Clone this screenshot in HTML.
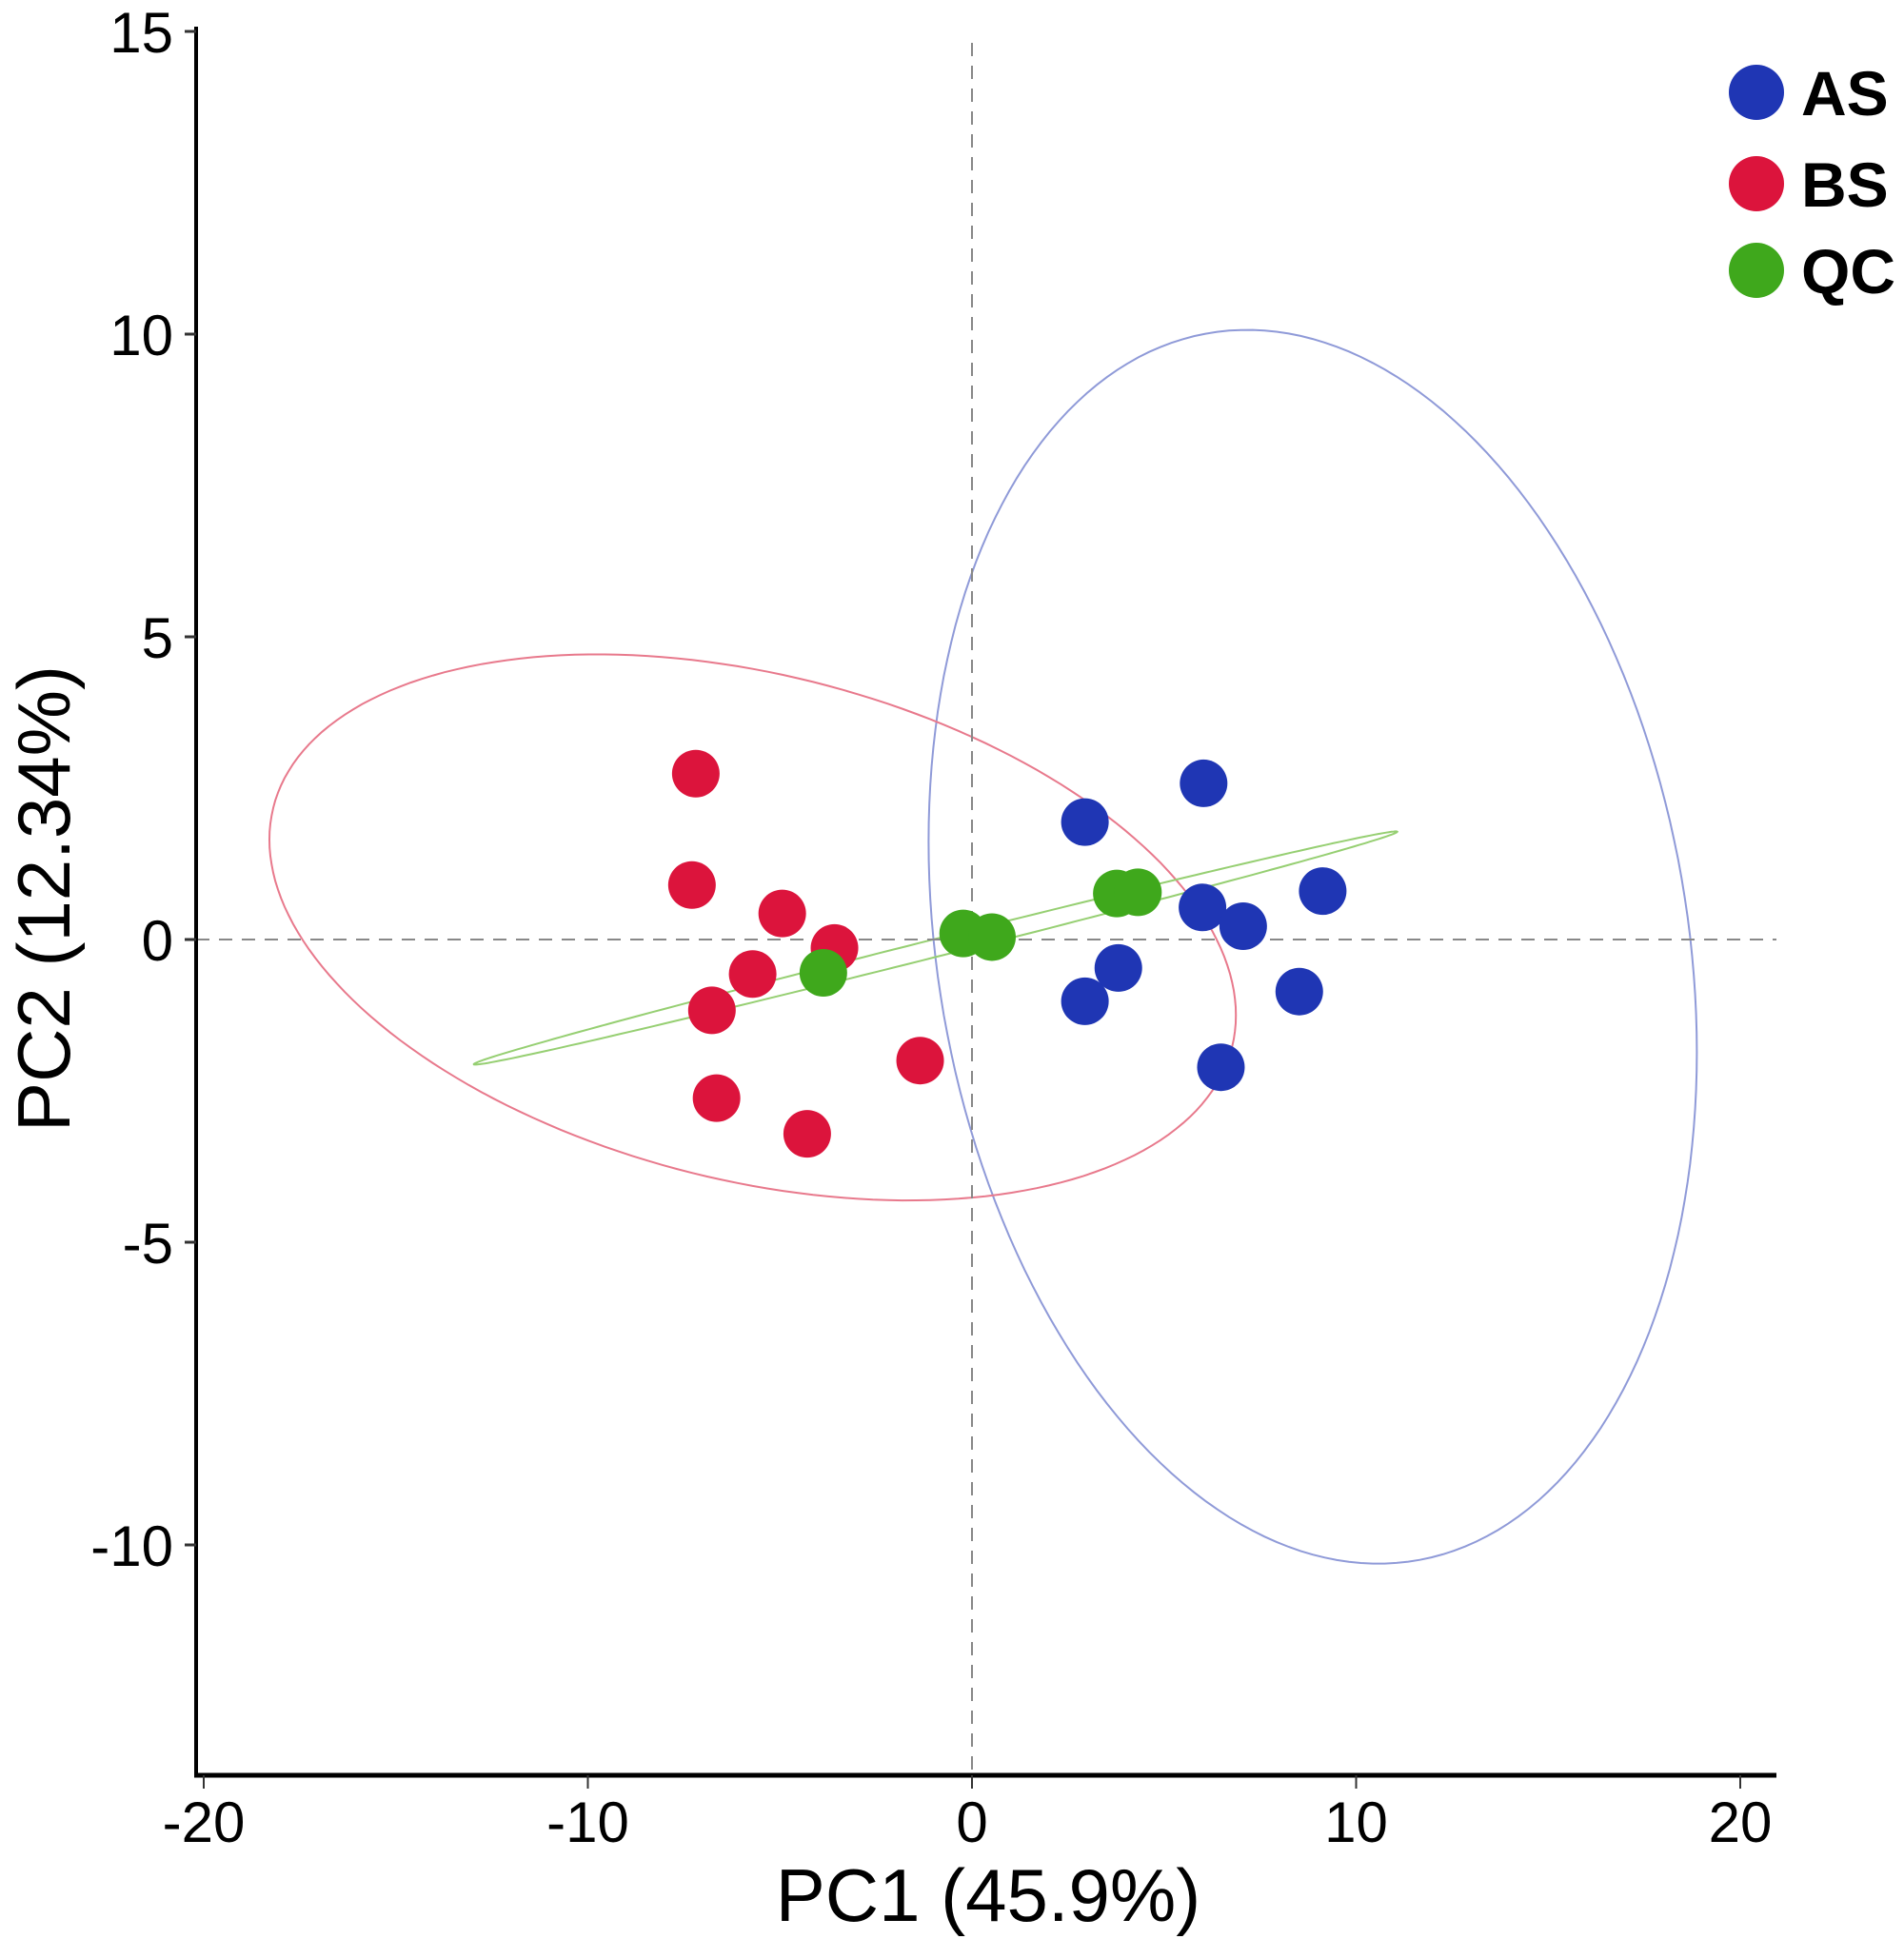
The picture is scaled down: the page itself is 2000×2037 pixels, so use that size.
<!DOCTYPE html>
<html><head><meta charset="utf-8"><style>
html,body{margin:0;padding:0;background:#fff;}
svg{display:block;font-family:"Liberation Sans",Arial,sans-serif;}
</style></head><body>
<svg id="chart" width="2000" height="2037" viewBox="0 0 2000 2037" xmlns="http://www.w3.org/2000/svg">
<g id="ellipses"></g>
<g id="guides"></g>
<g id="points"></g>
<g id="axes"></g>
<g id="legend"></g>
</svg>
<script>
const xTicks = [-20, -10, 0, 10, 20];
const yTicks = [15, 10, 5, 0, -5, -10];
const groups = ["AS", "BS", "QC"];
const asX = [6.03, 2.94, 9.13, 6.0, 7.06, 3.81, 2.94, 8.52, 6.48];
const asY = [2.58, 1.94, 0.80, 0.53, 0.22, -0.47, -1.02, -0.86, -2.11];
const bsX = [-7.19, -7.29, -4.94, -3.58, -5.71, -6.77, -1.35, -6.65, -4.29];
const bsY = [2.74, 0.90, 0.43, -0.14, -0.57, -1.17, -2.0, -2.62, -3.21];
const qcX = [-3.87, -0.23, 0.52, 3.77, 4.32];
const qcY = [-0.55, 0.10, 0.04, 0.76, 0.78];
// ellipse: center x, center y, conjugate semi-diameter U (ux,uy), V (vx,vy) in data units
const ellAS = [8.87, -0.12, 10.0, -1.74, 0, 10.04];
const ellBS = [-5.71, 0.20, 12.58, -1.45, 0, -4.27];
const ellQC = [-0.95, -0.14, 12.02, 1.92, 0, 0.15];

const NS = "http://www.w3.org/2000/svg";
const X0 = 1021, XS = 40.35, Y0 = 987, YS = 63.6;
const X = v => X0 + v * XS;
const Y = v => Y0 - v * YS;
const AX_L = 206, AX_R = 1866, AX_T = 28, AX_B = 1865;
function mk(tag, parent, attrs) {
  const e = document.createElementNS(NS, tag);
  for (const k in attrs) e.setAttribute(k, attrs[k]);
  parent.appendChild(e);
  return e;
}
const gE = document.getElementById('ellipses');
const gG = document.getElementById('guides');
const gP = document.getElementById('points');
const gA = document.getElementById('axes');
const gL = document.getElementById('legend');

function ellipse(p, color, name) {
  let d = "";
  for (let i = 0; i <= 200; i++) {
    const t = i / 200 * Math.PI * 2;
    const x = p[0] + Math.cos(t) * p[2] + Math.sin(t) * p[4];
    const y = p[1] + Math.cos(t) * p[3] + Math.sin(t) * p[5];
    d += (i ? "L" : "M") + X(x).toFixed(1) + "," + Y(y).toFixed(1);
  }
  const e = mk('path', gE, {d: d + "Z", fill: "none", stroke: color, "stroke-width": 2});
  
  
}
ellipse(ellAS, "#8f9ad8", "ellipse-as");
ellipse(ellBS, "#e8798c", "ellipse-bs");
ellipse(ellQC, "#96cf72", "ellipse-qc");

let l1 = mk('line', gG, {x1: X(0), x2: X(0), y1: 45, y2: AX_B, stroke: "#888", "stroke-width": 2, "stroke-dasharray": "14,10"});


let l2 = mk('line', gG, {x1: AX_L, x2: AX_R, y1: Y(0), y2: Y(0), stroke: "#888", "stroke-width": 2, "stroke-dasharray": "14,10"});



function pts(xs, ys, color, name) {
  for (let i = 0; i < xs.length; i++) {
    const c = mk('circle', gP, {cx: X(xs[i]), cy: Y(ys[i]), r: 25, fill: color});
    
    
  }
}
pts(bsX, bsY, "#dc143c", "bs");
pts(asX, asY, "#1f36b4", "as");
pts(qcX, qcY, "#3fa81c", "qc");

let ya = mk('line', gA, {x1: AX_L, x2: AX_L, y1: AX_T, y2: AX_B + 2, stroke: "#000", "stroke-width": 4});


let xa = mk('line', gA, {x1: AX_L - 2, x2: AX_R, y1: AX_B, y2: AX_B, stroke: "#000", "stroke-width": 5});


xTicks.forEach(v => {
  const t = mk('line', gA, {x1: X(v), x2: X(v), y1: AX_B, y2: AX_B + 14, stroke: "#333", "stroke-width": 2});
  
  
  const tx = mk('text', gA, {x: X(v), y: 1935, "text-anchor": "middle", "font-size": 60, fill: "#000"});
  tx.textContent = v;
  
  
});
yTicks.forEach(v => {
  const t = mk('line', gA, {x1: AX_L - 12, x2: AX_L, y1: Y(v), y2: Y(v), stroke: "#333", "stroke-width": 3});
  
  
  const tx = mk('text', gA, {x: 182, y: Y(v) + 22, "text-anchor": "end", "font-size": 60, fill: "#000"});
  tx.textContent = v;
  
  
});
const xt = mk('text', gA, {x: 1038, y: 2018, "text-anchor": "middle", "font-size": 78, fill: "#000"});
xt.textContent = "PC1 (45.9%)";


const yt = mk('text', gA, {x: 0, y: 0, "text-anchor": "middle", "font-size": 78, fill: "#000", transform: "translate(73,944) rotate(-90)"});
yt.textContent = "PC2 (12.34%)";



const legColors = ["#1f36b4", "#dc143c", "#3fa81c"];
const legY = [97, 193, 284];
groups.forEach((g, i) => {
  const c = mk('circle', gL, {cx: 1845, cy: legY[i], r: 29, fill: legColors[i]});
  
  
  const t = mk('text', gL, {x: 1892, y: legY[i] + 24, "font-size": 66, "font-weight": "bold", fill: "#000"});
  t.textContent = g;
  
  
});
</script>
</body></html>
